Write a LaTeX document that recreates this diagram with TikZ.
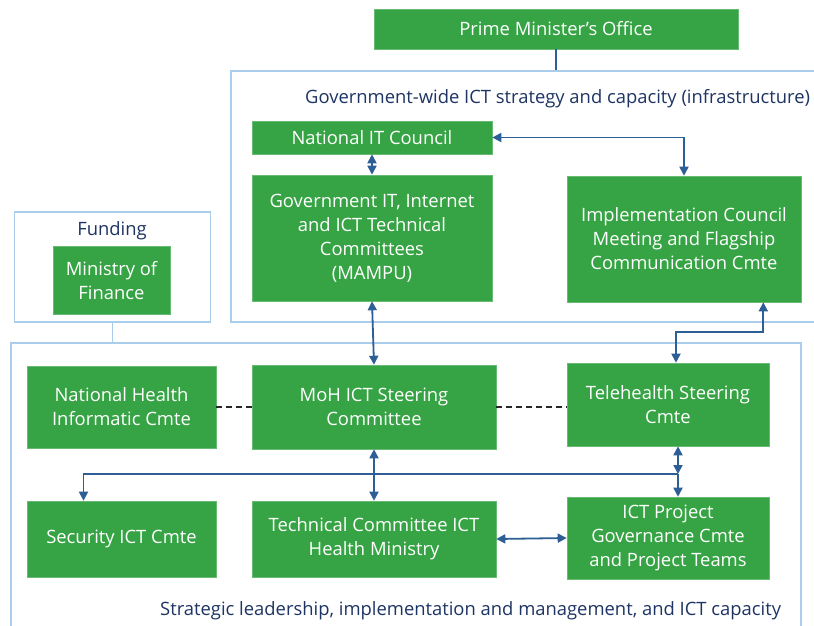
\documentclass[tikz,border=0pt]{standalone}
\usepackage{fontspec}
\setmainfont{Open Sans}
\usetikzlibrary{arrows.meta}

\definecolor{boxgreen}{RGB}{54,164,68}
\definecolor{frameblue}{RGB}{170,205,235}
\definecolor{linkblue}{RGB}{45,95,150}
\definecolor{labelblue}{RGB}{30,52,100}

\tikzset{
  unit/.style={fill=boxgreen, draw=boxgreen!75!white, line width=0.6pt, text=white,
    align=center, inner sep=0pt, font=\fontsize{18.4}{24}\selectfont},
  frame/.style={draw=frameblue, line width=1.4pt, inner sep=0pt},
  framelabel/.style={text=labelblue, inner sep=0pt, font=\fontsize{18.4}{24}\selectfont},
  link/.style={draw=linkblue, line width=1.8pt, >={Triangle[length=9pt,width=9pt]}},
  peer/.style={draw=black!85, line width=1.3pt, dash pattern=on 6pt off 4pt},
}

\begin{document}
\begin{tikzpicture}[x=1pt,y=-1pt]
  \useasboundingbox (0,0) rectangle (814,625);
  \fill[white] (0,0) rectangle (814,625);

  % Frames
  \node[frame, minimum width=609pt, minimum height=251pt] (govframe) at (535.5,196.5) {};
  \node[frame, minimum width=196pt, minimum height=110pt] (fundframe) at (112.5,267) {};
  \node[frame, minimum width=790pt, minimum height=317pt] (stratframe) at (406,501.5) {};

  % Frame labels
  \node[framelabel, anchor=west] (govlabel) at (305,99) {Government-wide ICT strategy and capacity (infrastructure)};
  \node[framelabel] (fundlabel) at (112,231) {Funding};
  \node[framelabel, anchor=west] (stratlabel) at (160,611) {Strategic leadership, implementation and management, and ICT capacity};

  % Top boxes
  \node[unit, minimum width=364pt, minimum height=40pt] (pmo) at (556,29) {Prime Minister's Office};
  \node[unit, minimum width=240pt, minimum height=33pt] (nic) at (372,137.5) {National IT Council};
  \node[unit, minimum width=240pt, minimum height=126pt] (govit) at (372,238)
    {Government IT, Internet\\and ICT Technical\\Committees\\(MAMPU)};
  \node[unit, minimum width=234pt, minimum height=126pt] (impl) at (684,239)
    {Implementation Council\\Meeting and Flagship\\Communication Cmte};
  \node[unit, minimum width=117pt, minimum height=68pt] (mof) at (111.5,280.5) {Ministry of\\Finance};

  % Ministry boxes
  \node[unit, minimum width=189pt, minimum height=82pt] (nhi) at (121.5,407) {National Health\\Informatic Cmte};
  \node[unit, minimum width=244pt, minimum height=84pt] (moh) at (374,407) {MoH ICT Steering\\Committee};
  \node[unit, minimum width=202pt, minimum height=83pt] (tele) at (668,404.5) {Telehealth Steering\\Cmte};
  \node[unit, minimum width=189pt, minimum height=76pt] (sec) at (121.5,539) {Security ICT Cmte};
  \node[unit, minimum width=244pt, minimum height=76pt] (tech) at (374,539) {Technical Committee ICT\\Health Ministry};
  \node[unit, minimum width=202pt, minimum height=82pt] (proj) at (668,538)
    {ICT Project\\Governance Cmte\\and Project Teams};

  % Links between frames
  \draw[link] (pmo.south) -- (pmo.south |- govframe.north);
  \draw[draw=frameblue, line width=1.4pt] (fundframe.south) -- (fundframe.south |- stratframe.north);

  % Links in the top frame
  \draw[link,<->] (nic.south) -- (govit.north);
  \draw[link,<->] (nic.east) -| (impl.north);
  \draw[link,<->] (govit.south) -- (moh.north);
  \draw[link,<->] ([xshift=-38pt]impl.south east) -- ++(0,30) -| ([xshift=8pt]tele.north);

  % Dashed peers
  \draw[peer] (nhi.east) -- (moh.west);
  \draw[peer] (moh.east) -- (moh.east -| tele.west);

  % Links in the bottom frame
  \coordinate (hub) at (678,474);
  \draw[link,<->] ([xshift=10pt]tele.south) -- (hub);
  \draw[link,->] (hub) -- ([xshift=10pt]proj.north);
  \draw[link,->] (hub) -| ([xshift=-38pt]sec.north);
  \draw[link,<->] (moh.south) -- (tech.north);
  \draw[link,<->] (tech.east) -- (proj.west);
\end{tikzpicture}
\end{document}
